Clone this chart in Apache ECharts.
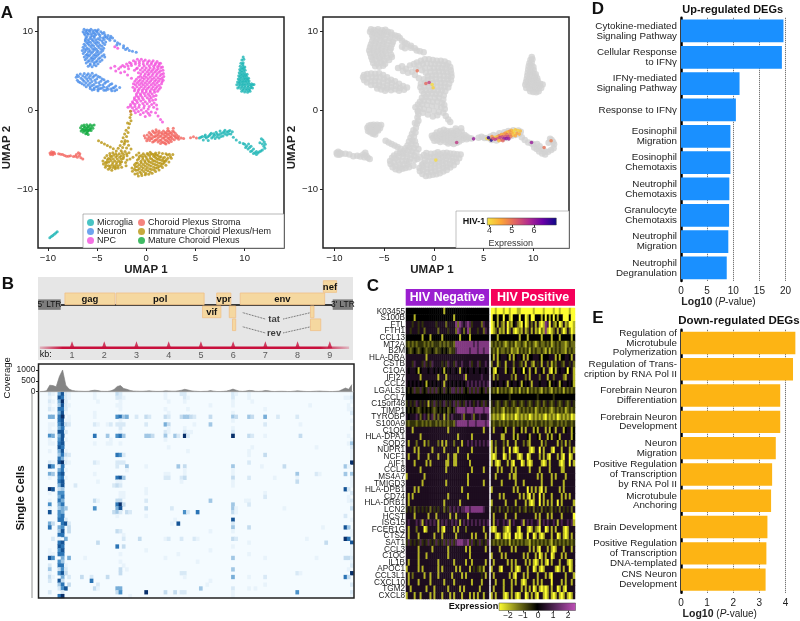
<!DOCTYPE html>
<html>
<head>
<meta charset="utf-8">
<title>HIV-1 single cell figure</title>
<script src="https://cdn.jsdelivr.net/npm/echarts@6/dist/echarts.min.js"></script>
<style>
  html, body { margin: 0; padding: 0; background: #fff; }
  #chart { width: 800px; height: 621px; }
</style>
</head>
<body>
<div id="chart"></div>
<script>
// ---- panel A: UMAP cells, [umap1, umap2]
const neuronPts = [[-6.32,10.31],[-6.0,10.22],[-5.62,10.3],[-5.2,10.18],[-4.88,10.24],[-6.42,9.98],[-6.08,9.9],[-5.72,10.02],[-5.38,9.86],[-5.0,9.95],[-4.62,9.98],[-4.3,9.88],[-6.22,9.58],[-5.88,9.66],[-5.5,9.5],[-5.12,9.62],[-4.72,9.55],[-4.2,9.62],[-3.88,9.5],[-3.6,9.42],[-6.12,9.22],[-5.7,9.14],[-5.3,9.26],[-4.92,9.1],[-4.42,9.2],[-3.9,9.12],[-3.42,9.18],[-6.2,8.82],[-5.82,8.74],[-5.42,8.86],[-5.02,8.72],[-4.5,8.8],[-4.12,8.68],[-3.2,8.84],[-2.92,8.6],[-6.32,8.4],[-5.92,8.48],[-5.5,8.34],[-5.1,8.44],[-4.7,8.3],[-4.22,8.38],[-2.7,8.42],[-2.3,8.2],[-6.42,8.02],[-6.02,7.94],[-5.62,8.06],[-5.2,7.9],[-4.8,8.0],[-4.32,7.88],[-2.32,7.96],[-1.92,7.88],[-6.5,7.6],[-6.1,7.68],[-5.7,7.54],[-5.3,7.64],[-4.9,7.5],[-4.42,7.6],[-1.72,7.62],[-1.4,7.52],[-1.02,7.38],[-6.4,7.22],[-6.0,7.14],[-5.6,7.26],[-5.2,7.1],[-4.8,7.2],[-4.3,7.08],[-6.3,6.8],[-5.9,6.88],[-5.5,6.72],[-5.1,6.84],[-4.7,6.7],[-4.22,6.78],[-6.2,6.42],[-5.8,6.34],[-5.4,6.46],[-5.0,6.3],[-4.5,6.4],[-6.1,6.02],[-5.7,5.94],[-5.3,6.06],[-4.9,5.92],[-5.9,5.62],[-5.5,5.54],[-5.1,5.66],[-7.12,4.22],[-7.02,4.5],[-6.7,4.62],[-6.3,4.7],[-5.9,4.66],[-5.5,4.72],[-5.1,4.5],[-4.7,4.2],[-4.3,3.9],[-3.9,3.72],[-3.5,3.4],[-3.1,3.1],[-2.7,2.9],[-7.0,3.84],[-6.62,4.1],[-6.22,4.22],[-5.82,4.18],[-5.42,4.2],[-5.02,4.02],[-4.62,3.7],[-4.22,3.44],[-3.82,3.1],[-3.4,2.86],[-3.0,2.62],[-6.72,3.56],[-6.32,3.7],[-5.92,3.74],[-5.52,3.68],[-5.12,3.54],[-4.72,3.24],[-4.32,2.98],[-3.9,2.7],[-3.5,2.5],[-6.3,3.24],[-5.9,3.22],[-5.5,3.16],[-5.1,3.02],[-4.7,2.78],[-4.3,2.56],[-5.7,2.8],[-5.3,2.66],[-4.9,2.5]];
const neuronFill = [[-6.15,10.12],[-5.8,10.14],[-5.42,10.1],[-5.05,10.08],[-4.45,9.78],[-6.3,9.78],[-5.95,9.78],[-5.6,9.74],[-5.25,9.76],[-4.85,9.75],[-4.05,9.3],[-6.02,9.4],[-5.65,9.36],[-5.28,9.42],[-4.7,9.3],[-4.22,9.36],[-3.65,9.2],[-6.18,9.02],[-5.92,8.96],[-5.5,9.02],[-5.15,8.96],[-4.72,8.98],[-4.28,9.0],[-3.7,8.9],[-6.05,8.62],[-5.65,8.62],[-5.25,8.64],[-4.85,8.58],[-4.4,8.56],[-3.0,8.3],[-6.18,8.2],[-5.78,8.26],[-5.35,8.18],[-4.95,8.22],[-4.5,8.14],[-6.28,7.8],[-5.85,7.78],[-5.45,7.82],[-5.05,7.74],[-4.6,7.76],[-2.1,7.75],[-6.25,7.44],[-5.88,7.42],[-5.45,7.42],[-5.05,7.36],[-4.6,7.38],[-6.12,7.0],[-5.75,7.02],[-5.35,6.98],[-4.95,7.0],[-4.5,6.92],[-6.05,6.62],[-5.62,6.6],[-5.25,6.62],[-4.85,6.56],[-5.92,6.2],[-5.52,6.24],[-5.12,6.16],[-4.7,6.2],[-5.7,5.78],[-5.3,5.8],[-6.88,4.32],[-6.45,4.42],[-6.05,4.46],[-5.68,4.44],[-5.3,4.42],[-4.88,4.3],[-4.48,4.0],[-4.1,3.62],[-3.65,3.3],[-3.25,2.9],[-6.88,3.66],[-6.45,3.9],[-6.05,4.0],[-5.65,3.96],[-5.22,3.84],[-4.82,3.52],[-4.42,3.22],[-4.02,2.92],[-3.6,2.72],[-3.2,2.5],[-6.52,3.38],[-6.12,3.48],[-5.72,3.46],[-5.32,3.3],[-4.92,3.04],[-4.52,2.82],[-4.1,2.56],[-6.1,3.02],[-5.7,3.0],[-5.3,2.86],[-4.9,2.7],[-5.5,2.6]];
const npcPts = [[-3.2,8.1],[-2.9,7.9],[-3.6,5.4],[-3.2,5.6],[-2.8,5.3],[-2.4,5.7],[-2.0,5.9],[-1.7,6.1],[-1.3,6.3],[-0.9,6.5],[-0.5,6.5],[-0.1,6.4],[0.3,6.3],[0.7,6.3],[1.1,6.2],[1.45,6.0],[-2.2,4.9],[-1.8,5.3],[-1.5,5.7],[-1.1,5.9],[-0.7,6.0],[-0.3,5.9],[0.1,5.9],[0.5,5.85],[0.9,5.8],[1.3,5.7],[1.65,5.5],[-1.2,5.1],[-0.9,5.4],[-0.4,5.4],[0.0,5.4],[0.4,5.4],[0.8,5.35],[1.2,5.3],[1.7,5.1],[-0.8,4.8],[-0.35,4.9],[0.1,4.9],[0.5,4.95],[0.9,4.9],[1.3,4.85],[1.75,4.7],[-0.6,4.35],[-0.2,4.4],[0.2,4.5],[0.6,4.45],[1.0,4.4],[1.4,4.4],[1.78,4.3],[-1.0,3.95],[-0.6,3.9],[-0.2,4.0],[0.2,4.0],[0.6,3.95],[1.0,3.9],[1.4,3.95],[1.72,3.85],[-1.3,3.4],[-0.9,3.5],[-0.5,3.45],[-0.1,3.5],[0.3,3.55],[0.7,3.45],[1.1,3.5],[1.55,3.4],[-1.35,2.95],[-0.95,3.0],[-0.5,3.0],[-0.1,3.05],[0.3,3.0],[0.7,3.0],[1.1,3.0],[1.45,2.9],[-1.2,2.5],[-0.8,2.55],[-0.4,2.55],[0.0,2.6],[0.4,2.5],[0.8,2.55],[1.15,2.45],[-1.0,2.1],[-0.6,2.1],[-0.2,2.15],[0.2,2.05],[0.6,2.1],[1.0,1.9],[-1.2,1.6],[-0.8,1.7],[-0.4,1.65],[0.1,1.6],[0.5,1.6],[0.95,1.4],[-1.4,1.1],[-1.0,1.25],[-0.55,1.2],[-0.1,1.1],[0.35,1.15],[0.8,0.95],[1.05,0.7],[-1.6,0.75],[-1.15,0.8],[-0.7,0.7],[-0.2,0.6],[0.3,0.5],[0.75,0.4],[1.1,0.2],[-1.85,0.4],[-1.4,0.3],[-1.0,0.2],[-0.5,0.05],[0.0,-0.1],[0.5,-0.2],[0.95,-0.3],[-1.6,-0.1],[-1.1,-0.3],[-0.6,-0.5],[-0.1,-0.75],[0.35,-0.6],[1.2,-0.7],[1.45,-1.15],[1.65,-1.45],[-3.1,5.0],[-2.6,4.8],[-1.9,4.5],[-1.5,4.1]];
const npcFill = [[-0.7,5.7],[-0.2,5.65],[0.3,5.65],[0.75,5.6],[1.15,5.55],[1.5,5.45],[-1.0,5.3],[-0.6,5.15],[-0.15,5.15],[0.25,5.15],[0.65,5.15],[1.05,5.1],[1.45,5.05],[-0.55,4.65],[-0.1,4.65],[0.3,4.7],[0.7,4.7],[1.1,4.65],[1.55,4.6],[-0.8,4.2],[-0.4,4.15],[0.0,4.2],[0.4,4.2],[0.8,4.15],[1.2,4.15],[1.6,4.1],[-1.15,3.7],[-0.75,3.7],[-0.35,3.72],[0.05,3.75],[0.45,3.75],[0.85,3.7],[1.25,3.7],[1.6,3.65],[-1.1,3.25],[-0.7,3.25],[-0.3,3.25],[0.1,3.3],[0.5,3.25],[0.9,3.25],[1.3,3.2],[-1.15,2.72],[-0.7,2.78],[-0.25,2.8],[0.15,2.82],[0.55,2.75],[0.95,2.78],[1.3,2.68],[-0.85,2.32],[-0.4,2.35],[0.0,2.35],[0.4,2.3],[0.85,2.32],[-1.0,1.85],[-0.55,1.9],[-0.1,1.88],[0.35,1.85],[0.75,1.8],[-1.2,1.4],[-0.75,1.45],[-0.3,1.4],[0.3,1.38],[0.65,1.3],[-1.35,0.95],[-0.9,1.0],[-0.35,0.9],[0.1,0.85],[0.55,0.75],[-1.6,0.55],[-1.15,0.5],[-0.75,0.42],[-0.25,0.3],[0.2,0.2],[-1.25,0.0],[-0.8,-0.12],[-0.3,-0.3],[0.2,-0.35],[-2.6,5.5],[-2.2,5.55],[-1.85,5.65],[-1.55,5.95],[-1.1,6.15],[-0.7,6.25],[-0.3,6.2],[0.15,6.15],[0.55,6.08],[0.95,6.0],[1.3,5.95]];
const stromaPts = [[-9.78,-5.4],[-9.62,-5.25],[-9.45,-5.4],[-9.72,-5.6],[-9.5,-5.62],[-9.3,-5.5],[-8.9,-5.5],[-8.5,-5.6],[-8.1,-5.8],[-7.7,-5.75],[-7.4,-5.85],[-7.1,-5.6],[-6.9,-5.35],[-6.8,-5.75],[-6.65,-6.0],[-6.45,-6.15],[-7.0,-5.95],[-0.1,-3.5],[-0.2,-3.2],[0.05,-3.85],[0.1,-3.1],[0.3,-3.35],[0.35,-3.8],[0.3,-2.8],[0.55,-3.15],[0.6,-3.55],[0.65,-2.6],[0.65,-4.0],[0.9,-2.9],[0.9,-3.3],[0.92,-3.75],[1.0,-2.45],[1.2,-4.0],[1.2,-3.5],[1.2,-3.05],[1.3,-2.6],[1.45,-4.2],[1.5,-3.75],[1.5,-3.25],[1.55,-2.8],[1.75,-4.05],[1.8,-3.5],[1.8,-3.05],[1.75,-2.6],[2.0,-4.25],[2.05,-3.8],[2.05,-3.25],[2.0,-2.85],[2.2,-2.3],[2.3,-4.1],[2.3,-3.55],[2.3,-3.05],[2.3,-2.6],[2.55,-3.95],[2.55,-3.4],[2.55,-2.9],[2.75,-2.25],[2.85,-3.7],[2.85,-3.2],[2.8,-2.7],[3.05,-3.5],[3.1,-3.1],[3.3,-3.65],[3.3,-3.3],[3.55,-3.5],[3.8,-3.55],[4.5,-3.45],[4.8,-3.35],[5.1,-3.5]];
const stromaFill = [[0.15,-3.6],[0.45,-3.0],[0.45,-3.55],[0.75,-2.75],[0.75,-3.35],[0.8,-3.9],[1.05,-2.7],[1.05,-3.2],[1.05,-3.7],[1.3,-2.85],[1.35,-3.3],[1.35,-3.8],[1.6,-3.0],[1.65,-3.5],[1.6,-4.0],[1.9,-2.8],[1.9,-3.3],[1.9,-3.75],[1.9,-4.15],[2.15,-3.0],[2.18,-3.5],[2.2,-3.95],[2.15,-2.6],[2.42,-2.8],[2.42,-3.3],[2.42,-3.75],[2.65,-3.1],[2.65,-3.6],[2.68,-2.6],[2.95,-3.35],[2.95,-2.9],[3.2,-3.45],[-9.6,-5.45],[-9.4,-5.3],[-8.7,-5.55],[-8.3,-5.7],[-7.9,-5.8],[-7.2,-5.8],[-6.75,-5.5]];
const microgliaPts = [[9.85,6.8],[9.72,6.4],[9.92,6.5],[9.62,6.0],[9.85,6.05],[9.55,5.6],[9.82,5.65],[10.02,5.5],[9.5,5.2],[9.78,5.25],[10.05,5.1],[9.45,4.8],[9.72,4.85],[10.0,4.75],[10.25,4.6],[9.4,4.4],[9.68,4.45],[9.95,4.4],[10.2,4.3],[10.4,4.1],[9.35,4.0],[9.62,4.05],[9.9,4.0],[10.15,3.95],[10.45,3.75],[9.28,3.6],[9.55,3.65],[9.82,3.6],[10.1,3.6],[10.4,3.5],[10.7,3.4],[9.2,3.25],[9.5,3.25],[9.78,3.2],[10.05,3.2],[10.35,3.15],[10.65,3.1],[10.95,3.3],[9.3,2.85],[9.6,2.8],[9.9,2.8],[10.2,2.75],[10.5,2.75],[10.8,2.85],[9.7,2.45],[10.0,2.35],[10.3,2.3],[10.55,2.45],[5.4,-3.5],[5.7,-3.3],[5.8,-3.75],[6.0,-3.1],[6.1,-3.5],[6.3,-3.8],[6.4,-3.2],[6.6,-2.9],[6.65,-3.5],[6.95,-3.15],[7.0,-3.55],[7.1,-2.75],[7.35,-3.1],[7.4,-3.5],[7.5,-2.6],[7.75,-2.85],[7.8,-3.25],[8.0,-2.5],[8.2,-2.75],[8.2,-3.1],[8.5,-2.55],[8.6,-3.0],[8.75,-2.7],[8.85,-3.4],[9.15,-3.75],[9.5,-4.05],[9.85,-4.2],[10.1,-4.7],[10.0,-4.3],[10.4,-4.25],[10.35,-4.9],[10.65,-4.55],[10.6,-5.2],[10.9,-4.9],[10.9,-5.45],[11.2,-5.2],[11.2,-5.6],[11.5,-5.25],[11.8,-5.0],[12.05,-4.8],[12.1,-4.3],[12.0,-4.0],[11.7,-3.6],[11.55,-4.1],[11.85,-3.75]];
const microgliaFill = [[9.8,5.85],[9.68,5.4],[9.92,5.35],[9.6,5.0],[9.88,5.0],[9.6,4.6],[9.85,4.6],[10.1,4.5],[9.52,4.2],[9.8,4.2],[10.05,4.15],[10.3,4.0],[9.48,3.85],[9.75,3.8],[10.0,3.78],[10.28,3.75],[9.42,3.45],[9.7,3.42],[9.95,3.4],[10.22,3.38],[10.52,3.3],[10.82,3.25],[9.45,3.05],[9.75,3.0],[10.05,2.98],[10.35,2.95],[10.65,2.92],[9.85,2.6],[10.15,2.55],[10.42,2.55],[5.55,-3.4],[5.95,-3.3],[6.25,-3.35],[6.5,-3.05],[6.8,-3.3],[6.85,-2.95],[7.2,-3.0],[7.2,-3.35],[7.55,-2.95],[7.6,-3.3],[7.9,-2.7],[8.0,-3.0],[8.35,-2.65],[8.4,-2.95],[10.2,-4.5],[10.5,-4.7],[10.75,-5.1],[11.05,-5.35],[11.35,-5.4],[11.65,-5.15],[11.95,-4.55],[11.8,-4.25]];
const microgliaTail = [[-9.8,-16.15],[-9.65,-16.0],[-9.5,-15.85],[-9.35,-15.7],[-9.2,-15.55],[-9.05,-15.4]];
const immaturePts = [[-1.6,-0.1],[-1.55,-0.5],[-1.65,-0.9],[-1.55,-1.3],[-1.7,-1.7],[-1.9,-1.6],[-1.8,-2.2],[-2.05,-2.5],[-1.85,-2.8],[-2.2,-3.0],[-2.0,-3.3],[-2.35,-3.45],[-2.15,-3.8],[-1.9,-3.9],[-2.5,-3.95],[-2.25,-4.3],[-1.8,-4.4],[-2.65,-4.45],[-2.4,-4.7],[-2.0,-4.75],[-1.55,-4.9],[-2.85,-4.8],[-2.55,-5.1],[-2.15,-5.2],[-1.75,-5.35],[-3.05,-5.15],[-2.75,-5.5],[-2.3,-5.6],[-1.95,-5.75],[-4.85,-3.85],[-4.55,-4.05],[-4.25,-4.25],[-3.95,-4.45],[-3.65,-4.65],[-3.35,-4.85],[-3.1,-5.5],[-3.4,-5.35],[-3.7,-5.45],[-4.0,-5.7],[-4.2,-6.0],[-4.4,-6.4],[-4.35,-6.8],[-4.15,-7.2],[-3.85,-7.45],[-3.5,-7.6],[-3.15,-7.4],[-2.85,-7.3],[-3.85,-6.1],[-3.5,-5.85],[-3.1,-5.9],[-2.7,-5.95],[-2.35,-6.1],[-4.0,-6.6],[-3.6,-6.35],[-3.2,-6.4],[-2.8,-6.4],[-2.5,-6.5],[-3.85,-7.0],[-3.45,-6.85],[-3.05,-6.85],[-2.65,-6.85],[-3.4,-7.25],[-2.5,-7.2],[-2.05,-7.0],[-1.95,-6.3],[-1.65,-6.15],[-1.35,-5.95],[-1.2,-6.9],[-1.45,-7.3],[-1.4,-7.7],[-1.15,-8.05],[-0.8,-8.3],[-0.45,-8.25],[-0.1,-8.15],[0.25,-8.1],[0.6,-7.95],[0.95,-7.75],[1.3,-7.55],[1.65,-7.25],[2.0,-6.95],[2.3,-6.55],[2.55,-6.05],[2.7,-5.6],[-1.05,-7.6],[-0.65,-7.8],[-0.25,-7.75],[0.15,-7.65],[0.55,-7.5],[0.95,-7.3],[1.3,-7.1],[1.65,-6.8],[1.95,-6.45],[2.2,-6.05],[2.35,-5.55],[-1.1,-7.15],[-0.7,-7.35],[-0.3,-7.3],[0.1,-7.25],[0.5,-7.05],[0.9,-6.85],[1.25,-6.65],[1.6,-6.35],[1.85,-5.95],[2.0,-5.5],[-1.05,-6.7],[-0.7,-6.9],[-0.3,-6.85],[0.1,-6.8],[0.5,-6.6],[0.85,-6.4],[1.2,-6.2],[1.5,-5.85],[1.65,-5.45],[-0.9,-6.3],[-0.55,-6.45],[-0.15,-6.4],[0.2,-6.35],[0.55,-6.15],[0.9,-5.95],[1.2,-5.7],[1.3,-5.35],[-0.7,-5.85],[-0.35,-5.95],[0.0,-5.9],[0.35,-5.75],[0.65,-5.55],[0.95,-5.4],[-0.3,-5.5],[0.1,-5.45],[0.4,-5.3],[-0.75,-5.4],[-1.0,-5.65]];
const immatureFill = [[-3.65,-5.75],[-3.3,-5.65],[-2.95,-5.7],[-2.55,-5.75],[-3.95,-6.3],[-3.65,-6.1],[-3.35,-6.15],[-2.95,-6.15],[-2.55,-6.2],[-4.15,-6.6],[-3.8,-6.55],[-3.4,-6.6],[-3.0,-6.6],[-2.65,-6.6],[-4.1,-6.95],[-3.65,-7.05],[-3.25,-7.05],[-2.85,-7.05],[-3.7,-7.3],[-3.1,-7.2],[-2.3,-5.9],[-2.1,-6.6],[-2.2,-4.05],[-2.45,-5.35],[-2.0,-5.5],[-1.2,-7.45],[-0.85,-7.55],[-0.45,-7.55],[-0.05,-7.5],[0.35,-7.4],[0.75,-7.2],[1.1,-6.95],[1.45,-6.7],[1.8,-6.4],[2.05,-6.25],[-0.9,-8.0],[-0.5,-8.0],[-0.05,-7.95],[0.4,-7.8],[0.8,-7.55],[1.15,-7.3],[1.5,-7.0],[1.8,-6.65],[-0.9,-7.1],[-0.5,-7.1],[-0.1,-7.05],[0.3,-6.95],[0.7,-6.75],[1.05,-6.5],[1.4,-6.25],[1.7,-6.1],[-0.9,-6.65],[-0.5,-6.65],[-0.1,-6.6],[0.3,-6.55],[0.7,-6.35],[1.05,-6.1],[1.35,-5.95],[-0.75,-6.1],[-0.35,-6.2],[0.05,-6.15],[0.4,-6.05],[0.75,-5.8],[1.05,-5.65],[-0.5,-5.7],[-0.15,-5.7],[0.2,-5.6],[0.5,-5.5],[0.85,-5.6],[2.15,-5.65],[2.45,-5.85]];
const maturePts = [[-6.68,-2.2],[-6.62,-2.6],[-6.55,-1.95],[-6.4,-2.35],[-6.4,-2.75],[-6.32,-1.85],[-6.2,-2.15],[-6.2,-2.55],[-6.15,-2.95],[-6.05,-1.8],[-6.0,-2.3],[-5.98,-2.7],[-5.9,-3.05],[-5.85,-2.0],[-5.8,-2.5],[-5.7,-1.8],[-5.65,-2.2],[-5.6,-2.55],[-5.5,-1.95],[-5.42,-2.25],[-5.3,-1.85],[-6.5,-2.4],[-6.3,-2.05],[-6.1,-2.45],[-5.95,-2.1],[-5.9,-2.55],[-5.72,-2.35],[-6.3,-2.55],[-6.05,-2.85]];

// ---- HIV-1 positive cells, [umap1, umap2, expression]
const hivPts = [[-1.67,5.03,5.0],[-0.8,3.42,5.1],[-0.47,3.55,5.5],[-0.17,3.3,4.0],[-0.07,2.88,4.1],[0.2,-6.3,4.0],[2.3,-4.06,5.6],[4.0,-3.6,6.0],[9.83,-4.06,6.0],[11.1,-4.7,5.0],[11.8,-3.85,4.9],[8.7,-2.6,4.3],[8.45,-2.55,4.1],[8.2,-2.45,4.2],[8.0,-2.6,4.0],[7.8,-2.5,4.4],[8.35,-2.9,4.6],[8.1,-2.85,4.1],[7.85,-2.85,4.5],[7.6,-2.65,4.7],[7.4,-2.75,4.3],[7.2,-2.85,4.6],[8.6,-3.0,4.4],[7.95,-3.15,4.2],[7.65,-3.05,4.8],[7.35,-3.05,5.0],[7.05,-3.0,4.7],[6.8,-3.05,4.5],[6.55,-3.2,4.9],[6.35,-3.35,4.4],[6.1,-3.45,4.1],[5.35,-3.55,4.0],[5.6,-3.65,4.1],[5.85,-3.3,4.7],[7.2,-3.3,5.3],[7.5,-3.35,5.6],[7.75,-3.3,4.9],[6.9,-3.35,5.4],[6.65,-3.45,5.6],[6.4,-3.6,5.3],[6.15,-3.65,5.7],[7.05,-3.6,6.0],[7.3,-3.55,6.1],[6.75,-3.75,5.2],[8.2,-3.2,4.5],[5.5,-3.47,6.8],[5.77,-3.76,6.9],[6.55,-3.85,4.3],[6.95,-3.85,5.1],[7.55,-3.6,5.9],[5.95,-3.55,5.4]];

// ---- panel B: HIV-1 genome map
const geneNames = ['gag', 'pol', 'vif', 'vpr', 'env', 'nef', '', '', '', ''];
const geneStart = [0.78, 2.37, 5.05, 5.49, 6.22, 8.8, 5.88, 5.98, 8.4, 8.4];
const geneEnd = [2.33, 5.1, 5.62, 5.93, 8.84, 9.21, 6.08, 6.08, 8.51, 8.72];
const geneTrack = [4.5, 4.5, 3.44, 4.5, 4.5, 5.5, 3.44, 2.39, 3.44, 2.39];
const ltrNames = ["5' LTR", "3' LTR"];
const ltrStart = [-0.05, 9.09];
const ltrEnd = [0.65, 9.72];
const kbTicks = [1, 2, 3, 4, 5, 6, 7, 8, 9];
const tatRevNames = ['tat', 'rev'];
const tatRevKb = [7.27, 7.27];
const tatRevLevel = [3.33, 2.2];
const dashKb = [6.3, 7.0, null, 7.55, 8.4, null, 6.3, 7.0, null, 7.55, 8.4];
const dashLevel = [3.85, 3.33, null, 3.33, 3.85, null, 2.7, 2.2, null, 2.2, 2.7];

// coverage per 0.1 kb bin
const coverage = [10,15,40,300,280,230,700,1000,300,120,60,35,25,20,15,20,50,70,50,20,15,15,40,100,240,280,150,110,60,30,25,20,20,30,40,25,15,15,20,40,35,25,25,40,70,110,80,40,25,15,10,15,20,50,25,10,10,15,30,70,120,70,25,15,30,60,50,20,15,25,55,45,15,10,15,20,15,10,10,25,40,30,15,10,10,15,25,30,20,15,10,10,15,30,100,170,110,330];

// single cell coverage, one list per cell: bin, level, bin, level ...
const cellRows = [
  [3,2,4,1,6,5,7,8,8,2,9,1,17,1,24,3,25,2,39,1,44,2,45,2,60,2,61,1,65,1,97,1],
  [3,1,6,8,7,7,8,2,9,1,17,1,24,2,25,2,26,1,39,1,45,2,46,1,60,2,65,1,95,1,96,1,97,2],
  [3,2,4,1,6,5,7,9,8,2,18,1,25,1,40,1,45,1,60,1,66,1,97,1],
  [3,1,6,4,7,8,8,2,9,1,24,1,25,1,53,1,60,1,84,1,96,1],
  [3,2,4,1,6,7,7,7,8,2,25,1,39,1,46,1,70,1,96,1,97,1],
  [6,5,7,8,8,1,17,1,40,1,60,1,97,2],
  [3,5,4,5,6,7,7,9,9,1,17,1,24,6,25,7,26,4,27,5,30,2,33,3,34,2,39,3,40,2,44,3,45,4,46,4,47,3,48,2,53,3,60,4,61,3,65,4,66,3,70,5,74,2,80,2],
  [6,7,7,8,8,1,9,1,25,1,60,1,97,1],
  [3,1,4,1,6,6,7,8,8,3,9,2,17,2,18,1,21,1,22,2,24,2,25,2,26,2,33,2,39,5,40,3,48,1,53,4,70,2,81,1],
  [3,1,6,5,7,7,25,2,40,1,45,1,60,1,97,1],
  [3,1,4,1,6,8,7,8,8,2,25,1,39,2,40,1,45,2,46,1,47,1,60,2],
  [3,6,4,5,6,5,7,8,17,7,21,4,24,6,25,7,26,4,33,4,34,4,35,3,39,4,42,4,43,2,45,9,46,2,60,9,65,3,66,2,70,1,81,3,96,1],
  [3,1,6,6,7,8,8,1,22,1,39,1,97,1],
  [3,1,4,1,6,7,7,8,17,1,21,1,22,1,25,1,96,1,97,4],
  [6,8,7,7,40,1,66,1,86,1,97,2],
  [3,1,6,5,7,8,8,1,46,1,65,1,97,1],
  [6,4,7,7,8,3,9,2,24,7,25,6,26,2,65,1,70,3,97,1],
  [6,7,7,5,8,1,97,1],
  [3,2,4,1,6,8,7,9,8,2,9,1,17,2,18,1,24,2,25,2,26,2,65,2,97,9],
  [3,8,4,6,6,2,7,7,24,2,27,4,33,1,43,4,45,3,60,4,69,1,76,3,95,4,96,1],
  [6,5,7,7,8,1,27,1,45,1,60,1],
  [3,5,4,4,6,7,7,8,17,1,39,1,40,1,45,1,60,1,80,4,86,2,87,1,95,4,97,4],
  [3,1,6,6,7,7,8,1,24,7,25,8,26,4,39,2,40,2,44,2,45,3,60,3,65,2,73,1,80,1,97,1],
  [6,7,7,8,18,1,24,1,25,1,44,1,60,1,80,3,97,1],
  [6,5,7,8,11,2,23,2,24,3,25,2,60,1,97,1],
  [3,9,4,8,6,3,7,4,33,1,95,8,96,2],
  [3,1,6,6,7,6,25,1,26,1,33,1,70,1,97,2],
  [6,5,7,7,25,1,26,1,70,2,96,1],
  [3,1,6,7,7,5,17,3,18,1,24,3,25,3,33,2,53,4,64,1,65,1,96,1,97,2],
  [3,6,6,5,7,7,24,7,25,9,26,3,60,4,65,2,97,1],
  [3,1,6,4,7,5,8,4,17,6,24,5,25,8,33,3,41,2,60,4,61,1,76,1,97,3],
  [3,8,6,6,7,5,23,3,24,4,25,2,27,3,28,2,45,6,46,2,49,7,60,3,61,1],
  [6,6,7,7,24,1,33,1,95,2],
  [6,7,7,7,8,2,42,1,60,8,97,1],
  [3,5,4,3,7,7,8,8,9,2,41,1,43,8,60,2],
  [3,7,6,5,7,6,9,3,60,4,65,3,88,1,95,8,96,4],
  [6,4,7,8,9,3,24,3,25,2,53,1,60,1,97,1],
  [6,7,7,7,26,1,97,1],
  [4,2,6,1,8,5,26,2,31,3,39,1,40,2,44,2,48,2,49,1,60,3,61,2,83,1,95,9,96,7],
  [6,7,7,8,18,3,65,1,89,3,97,8],
  [6,8,7,7,24,7,26,3,60,1,97,1],
  [3,1,6,6,7,8,33,1,53,1,97,1],
  [3,1,4,1,6,7,7,7,25,1,43,1,65,1,97,1],
  [3,8,4,6,7,5,9,5,14,1,39,1,60,4,70,1,86,1,95,3,96,3,97,2],
  [6,6,7,4,25,1,49,1,97,1],
  [3,2,6,7,7,7,8,1,26,1,97,2],
  [3,4,6,3,7,6,8,2,25,3,27,1,60,4,96,1],
  [3,1,6,6,7,8,8,3,25,3,44,2,45,2,80,2,81,1,97,9],
  [3,3,4,1,7,5,9,2,13,3,16,2,21,3,45,1,60,5,65,1,70,2,95,7,96,3],
  [3,2,6,8,7,3,16,7,53,1],
  [6,4,7,7,9,3,18,2,52,1,70,1,97,2],
  [6,2,7,6,8,8,17,3,18,1,24,5,25,5,50,4,60,2,65,1,67,1],
  [3,2,7,2,24,3,25,6,33,9,39,3,42,3,44,2,45,2,60,1,80,6,97,2],
  [6,7,7,9,28,1,60,1,97,1]
];

// ---- panel C: one line per gene, 42 HIV negative then 42 HIV positive cells
// digit is an index into exprLevels
const exprLevels = [-2.5, -1.8, -1.1, -0.5, 0, 0.4, 1.0, 1.7, 2.4];
const genes = ['K03455','S100B','FTL','FTH1','CCL13','MT2A','B2M','HLA-DRA','CSTB','C1QA','IFI27','CCL2','LGALS1','CCL7','C15orf48','TIMP1','TYROBP','S100A9','C1QB','HLA-DPA1','SOD2','NUPR1','NCF1','AIF1','CCL8','MS4A7','TMIGD3','HLA-DPB1','CD74','HLA-DRB1','LCN2','HCST','ISG15','FCER1G','CTSZ','SAT1','CCL3','C1QC','IL1B','APOC1','CCL3L1','CXCL10','TGM2','CXCL8'];
const geneRows = [
  '444444 444444 444444 414444 444444 444444 444444 001000 100100 011000 000100 001000 010010 000100',
  '444414 444444 444444 444444 144444 444444 444444 044144 044104 440440 140044 414041 404144 000400',
  '555355 353555 555355 552555 572765 676355 552655 014152 150214 521040 152515 101760 521401 512001',
  '553555 355255 555525 555355 527652 572555 355265 012512 150251 012151 251512 021710 125152 015201',
  '444444 441444 144444 144444 444144 441444 444444 444144 444444 441444 144444 414444 144414 444414',
  '323232 333232 323332 323233 277777 777767 677777 232323 212323 122321 323212 322323 123232 212322',
  '432343 234323 343233 434323 367777 776777 677677 323132 232312 213232 313232 232131 323232 213232',
  '555555 555515 555555 555555 555555 555555 555555 415145 554151 455415 144555 414445 551414 455415',
  '555365 553635 365555 353655 365565 556355 635565 255135 515552 553251 552153 515525 132553 255352',
  '545554 145554 554545 414545 545154 545545 545545 410455 514551 455404 515415 541551 041545 540451',
  '555555 515555 555515 551555 555556 155555 556555 515255 555525 155552 515555 255515 525555 215551',
  '545454 545414 545454 515454 545454 565656 565656 545455 451545 545145 451555 455541 454514 554541',
  '434363 363436 363634 363436 636363 436363 634363 323132 323213 231323 132323 213232 132323 132323',
  '444444 444444 444444 444444 444444 444444 444444 444444 444344 444444 444443 444444 434444 444444',
  '353536 535351 536353 563535 636353 656535 653635 353235 323532 353235 323532 352353 235323 532353',
  '434343 234343 432343 434234 367777 677767 777677 323232 132323 212323 232312 323232 123232 312323',
  '545556 525652 562525 515256 555562 555625 565556 212121 021212 012121 201212 121021 212012 121201',
  '323332 332323 233232 323233 267777 767776 777767 323323 232332 323233 232323 323232 233232 323323',
  '555155 555555 555555 555155 555555 555555 555155 515555 415551 554151 555141 555151 451555 145514',
  '555555 515555 555555 555555 551555 555155 555555 555551 155551 415555 415554 155514 155415 555514',
  '515552 555152 555525 151555 255515 565656 565656 152555 251555 155525 215555 515255 555152 515255',
  '555515 155555 515555 515555 551555 555155 555555 151555 155051 015555 510155 051555 105551 555151',
  '515555 155551 555515 555155 115555 515555 555555 101555 015155 510155 015555 151510 555151 055015',
  '555515 555515 155555 551155 115555 551555 555555 151015 551510 555015 101555 510151 555510 155051',
  '555555 515555 555555 551555 555555 555155 555155 555151 555515 155555 515555 155551 555551 155555',
  '155555 555155 555555 555555 555555 515555 555555 551555 555151 155555 555551 515555 151555 515555',
  '555555 551555 555555 551555 555555 515555 555155 555551 555555 155515 555555 515555 155555 155555',
  '555515 155555 555555 555555 555515 555555 555555 155555 555551 515555 051515 105155 555515 155555',
  '515155 555555 555555 555155 555555 515555 555555 555515 155555 551515 105155 051555 155551 515155',
  '515555 555555 555555 515555 555155 555555 555555 155555 515555 155551 510155 051515 155051 555551',
  '353525 353535 253535 525365 656566 776777 777655 353525 352535 352532 535253 525353 253525 353525',
  '555515 555551 555155 555515 515555 515555 555555 515555 515555 155555 555515 155515 155551 555550',
  '565556 561565 656515 656556 565156 565656 565656 515655 656156 555615 656556 156565 565156 556561',
  '515552 555015 555515 105555 151555 255555 555155 101555 210155 510555 101521 055015 151555 101555',
  '515555 155555 551555 155555 515555 555151 555515 551015 101055 010155 055015 101555 155015 101515',
  '363535 363536 353635 363636 367776 673635 363536 323232 323132 323232 213232 323232 132323 232323',
  '555555 155555 515555 555155 555555 151555 555515 555515 555515 155555 515151 055515 101555 155515',
  '555555 155515 555555 555155 555555 551555 555555 155551 515555 555515 155515 015155 015551 515555',
  '515555 155555 555515 555555 155555 155155 555515 515555 551515 155551 515101 515105 155515 551015',
  '155555 151555 555515 155555 515155 551535 323155 155510 555515 101555 155015 101555 551015 155015',
  '515255 555155 155515 555551 555515 155555 553515 515555 555151 055515 155551 555151 055555 515551',
  '515555 155555 155555 515555 155555 555155 551555 551555 155515 155101 555151 515555 055551 515515',
  '551555 555515 551555 555155 555151 555555 515555 515555 155515 555151 515015 101015 155015 105555',
  '155515 515555 151555 155515 155515 551515 155155 151555 101515 101550 151510 551015 101510 151015'
];

// ---- panels D and E: enrichment bars
const upTerms = ['Cytokine-mediated\nSignaling Pathway','Cellular Response\nto IFNγ','IFNγ-mediated\nSignaling Pathway','Response to IFNγ','Eosinophil\nMigration','Eosinophil\nChemotaxis','Neutrophil\nChemotaxis','Granulocyte\nChemotaxis','Neutrophil\nMigration','Neutrophil\nDegranulation'];
const upValues = [19.6, 19.3, 11.2, 10.5, 9.45, 9.45, 9.25, 9.2, 9.05, 8.75];
const downTerms = ['Regulation of\nMicrotubule\nPolymerization','Regulation of Trans-\ncription by RNA Pol II','Forebrain Neuron\nDifferentiation','Forebrain Neuron\nDevelopment','Neuron\nMigration','Positive Regulation\nof Transcription\nby RNA Pol II','Microtubule\nAnchoring','Brain Development','Positive Regulation\nof Transcription\nDNA-templated','CNS Neuron\nDevelopment'];
const downValues = [4.38, 4.29, 3.8, 3.8, 3.63, 3.49, 3.45, 3.31, 3.27, 3.24];

const umapColors = { microglia: '#1cb5b5', neuron: '#4a8dea', npc: '#f24fdc', stroma: '#f2655f', immature: '#b8930f', mature: '#10aa3e' };
const plasma = ['#f5e642', '#fca636', '#e16462', '#b12a90', '#6a00a8', '#0d0887'];
const purpleYellow = ['#ffff30', '#7a7a18', '#000000', '#5c2a60', '#c050b8'];
const blues = ['#f4fbff', '#e2eff9', '#c4dcef', '#8fbde0', '#4a90c8', '#1c66ac', '#08306b'];
const ink = '#222';
const sans = '"Liberation Sans", Arial, sans-serif';
const dotSize = 3;

const chartInstance = echarts.init(document.getElementById('chart'));

const minusSign = v => String(v).replace('-', '\u2212');

function umapAxes (gridIndex, xMin, xMax, namePad) {
  return {
    x: {
      gridIndex, type: 'value', min: xMin, max: xMax,
      name: 'UMAP 1', nameLocation: 'middle', nameGap: 16,
      nameTextStyle: { fontSize: 11.5, fontWeight: 'bold', color: ink, padding: [0, namePad, 0, 0] },
      splitLine: { show: false }, axisLine: { show: false, onZero: false },
      axisTick: { show: true, length: 3, customValues: [-10, -5, 0, 5, 10], lineStyle: { color: ink } },
      axisLabel: { customValues: [-10, -5, 0, 5, 10], fontSize: 9.5, color: ink, margin: 5, formatter: minusSign }
    },
    y: {
      gridIndex, type: 'value', min: -17.45, max: 11.86,
      name: 'UMAP 2', nameLocation: 'middle', nameGap: 5,
      nameTextStyle: { fontSize: 11.5, fontWeight: 'bold', color: ink, padding: [0, 30, 0, 0] },
      splitLine: { show: false }, axisLine: { show: false, onZero: false },
      axisTick: { show: true, length: 3, customValues: [-10, 0, 10], lineStyle: { color: ink } },
      axisLabel: { customValues: [-10, 0, 10], fontSize: 9.5, color: ink, margin: 5, formatter: minusSign }
    }
  };
}

// bars of the enrichment panels
function barAxes (gridIndex, terms, xMax, xTicks) {
  return {
    x: {
      gridIndex, type: 'value', min: 0, max: xMax,
      name: '{b|Log10} ({i|P}-value)', nameLocation: 'middle', nameGap: 16,
      nameTextStyle: { fontSize: 10, color: ink, padding: [0, 40, 0, 0], rich: { b: { fontWeight: 'bold', fontSize: 10.5 }, i: { fontStyle: 'italic', fontSize: 10 } } },
      axisLine: { show: false, onZero: false }, axisTick: { show: false },
      axisLabel: { customValues: xTicks, fontSize: 10, color: ink, margin: 5 },
      splitLine: { show: true, showMinLine: false, showMaxLine: false, lineStyle: { type: 'dotted', color: '#555', width: 1 } }
    },
    y: {
      gridIndex, type: 'category', data: terms, inverse: true,
      axisLine: { lineStyle: { color: '#000', width: 2.5 } }, axisTick: { show: false },
      axisLabel: { interval: 0, fontSize: 9.8, lineHeight: 9.8, color: ink, margin: 4, align: 'right' }
    }
  };
}

// rectangles on the genome map, span and track come from the data
function renderSpan (params, api) {
  const p0 = api.coord([api.value(0), api.value(2) + 0.95]);
  const p1 = api.coord([api.value(1), api.value(2)]);
  const children = [{
    type: 'rect',
    shape: { x: p0[0], y: p0[1], width: p1[0] - p0[0], height: p1[1] - p0[1] },
    style: { fill: '#f5d8a0', stroke: '#f0c088', lineWidth: 0.8 }
  }];
  const label = geneNames[params.dataIndex];
  if (label) {
    children.push({
      type: 'text', x: (p0[0] + p1[0]) / 2, y: (p0[1] + p1[1]) / 2 + 1,
      style: { text: label, fill: '#111', font: '600 9.5px ' + sans, align: 'center', verticalAlign: 'middle', textAlign: 'center', textVerticalAlign: 'middle' }
    });
  }
  return { type: 'group', children };
}

function renderLtr (params, api) {
  const p0 = api.coord([api.value(0), 4.93]);
  const p1 = api.coord([api.value(1), 4.08]);
  return {
    type: 'group',
    children: [
      { type: 'rect', shape: { x: p0[0], y: p0[1], width: p1[0] - p0[0], height: p1[1] - p0[1] }, style: { fill: '#7d7d7d' } },
      { type: 'text', x: (p0[0] + p1[0]) / 2, y: (p0[1] + p1[1]) / 2, style: { text: ltrNames[params.dataIndex], fill: '#111', font: '8.4px ' + sans, align: 'center', verticalAlign: 'middle', textAlign: 'center', textVerticalAlign: 'middle' } }
    ]
  };
}

// colour bar spanning a value range of its own axis
function renderColorBar (colors) {
  return function (params, api) {
    const p0 = api.coord([api.value(0), 1]);
    const p1 = api.coord([api.value(1), 0]);
    return {
      type: 'rect',
      shape: { x: p0[0], y: p0[1], width: p1[0] - p0[0], height: p1[1] - p0[1] },
      style: {
        stroke: '#444', lineWidth: 0.5,
        fill: new echarts.graphic.LinearGradient(0, 0, 1, 0, colors.map((c, i) => ({ offset: i / (colors.length - 1), color: c })))
      }
    };
  };
}

const greyPts = [].concat(microgliaPts, neuronPts, npcPts, stromaPts, immaturePts, maturePts);

const kbBins = coverage.map((v, i) => i);
const rowIndex = cellRows.map((v, i) => i);
const cellData = [];
cellRows.forEach((row, r) => {
  for (let k = 0; k < row.length; k += 2) cellData.push([row[k], r, row[k + 1]]);
});

const negData = [];
const posData = [];
const cellsPerGroup = 42;
geneRows.forEach((line, g) => {
  const digits = line.replace(/ /g, '');
  for (let c = 0; c < digits.length; c++) {
    const val = exprLevels[Number(digits[c])];
    if (c < cellsPerGroup) negData.push([c, g, val]);
    else posData.push([c - cellsPerGroup, g, val]);
  }
});
const cellCols = Array.from({ length: cellsPerGroup }, (v, i) => i);

const umapLeft = umapAxes(0, -11, 14, 30);
const umapRight = umapAxes(1, -11.15, 13.6, 28);
const barsUp = barAxes(9, upTerms, 22, [0, 5, 10, 15, 20]);
const barsDown = barAxes(10, downTerms, 4.5, [0, 1, 2, 3, 4]);

function labelText (text, x, y, font, extra, fill) {
  return Object.assign({
    type: 'text', x, y, z: 60,
    style: { text, font: font + ' ' + sans, fill: fill || '#111', align: 'center', verticalAlign: 'middle', textAlign: 'center', textVerticalAlign: 'middle' }
  }, extra || {});
}

const initOption = {
  animation: false,
  backgroundColor: '#fff',
  textStyle: { fontFamily: sans },
  grid: [
    { left: 36, top: 17, width: 248, height: 231, show: true, borderColor: '#222', borderWidth: 1.5, backgroundColor: '#fff' },
    { left: 323, top: 17, width: 246, height: 231, show: true, borderColor: '#222', borderWidth: 1.5, backgroundColor: '#fff' },
    { left: 38, top: 277, width: 315, height: 83, show: true, backgroundColor: '#e6e6e6', borderWidth: 0 },
    { left: 38.5, top: 364, width: 315, height: 27.7 },
    { left: 38.5, top: 392, width: 315, height: 206, show: true, backgroundColor: blues[0], borderWidth: 0 },
    { left: 406, top: 308, width: 83, height: 291 },
    { left: 491, top: 308, width: 84, height: 291 },
    { left: 499, top: 603, width: 76.5, height: 7.5 },
    { left: 487.3, top: 218, width: 69, height: 7 },
    { left: 681, top: 17.8, width: 115, height: 263.3 },
    { left: 681, top: 329.8, width: 117.5, height: 263 }
  ],
  xAxis: [
    umapLeft.x,
    umapRight.x,
    { gridIndex: 2, type: 'value', min: -0.056, max: 9.72, show: false },
    { gridIndex: 3, type: 'category', data: kbBins, show: false },
    { gridIndex: 4, type: 'category', data: kbBins, show: false },
    { gridIndex: 5, type: 'category', data: cellCols, show: false },
    { gridIndex: 6, type: 'category', data: cellCols, show: false },
    {
      gridIndex: 7, type: 'value', min: -2.6, max: 2.5,
      axisLine: { show: false, onZero: false }, splitLine: { show: false },
      axisTick: { customValues: [-2, -1, 0, 1, 2], length: 2, lineStyle: { color: '#333' } },
      axisLabel: { customValues: [-2, -1, 0, 1, 2], fontSize: 8.5, color: ink, margin: 1, formatter: minusSign }
    },
    {
      gridIndex: 8, type: 'value', min: 3.9, max: 7, z: 5,
      name: 'Expression', nameLocation: 'middle', nameGap: 14,
      nameTextStyle: { fontSize: 9, color: '#333', padding: [0, 22, 0, 0] },
      axisLine: { show: false, onZero: false }, splitLine: { show: false },
      axisTick: { customValues: [4, 5, 6], length: 2, lineStyle: { color: '#333' } },
      axisLabel: { customValues: [4, 5, 6], fontSize: 9, color: '#333', margin: 1 }
    },
    barsUp.x,
    barsDown.x
  ],
  yAxis: [
    umapLeft.y,
    umapRight.y,
    { gridIndex: 2, type: 'value', min: 0, max: 6.75, show: false },
    {
      gridIndex: 3, type: 'value', min: 0, max: 1276,
      name: 'Coverage', nameLocation: 'middle', nameGap: 5,
      nameTextStyle: { fontSize: 9.5, color: '#111', fontWeight: 500 },
      splitLine: { show: false }, axisLine: { show: false },
      axisTick: { show: true, length: 2.5, customValues: [0, 500, 1000], lineStyle: { color: ink } },
      axisLabel: { customValues: [0, 500, 1000], fontSize: 8.5, color: ink, margin: 3, formatter: v => String(v) }
    },
    { gridIndex: 4, type: 'category', data: rowIndex, inverse: true, show: false },
    {
      gridIndex: 5, type: 'category', data: genes, inverse: true,
      axisLine: { show: false }, axisTick: { show: false },
      axisLabel: { interval: 0, fontSize: 8.2, color: ink, margin: 1 }
    },
    { gridIndex: 6, type: 'category', data: genes, inverse: true, show: false },
    { gridIndex: 7, type: 'value', min: 0, max: 1, show: false },
    { gridIndex: 8, type: 'value', min: 0, max: 1, show: false },
    barsUp.y,
    barsDown.y
  ],
  legend: {
    left: 83, top: 214, height: 34, orient: 'vertical',
    padding: [4, 0, 0, 4], itemGap: 0, itemWidth: 7, itemHeight: 7, icon: 'circle', selectedMode: false,
    textStyle: { fontSize: 9, lineHeight: 7, color: ink, padding: [0, 5, 0, -2] },
    data: ['Microglia', 'Neuron', 'NPC', 'Choroid Plexus Stroma', 'Immature Choroid Plexus/Hem', 'Mature Choroid Plexus']
  },
  visualMap: [
    { show: false, seriesIndex: 7, dimension: 2, min: 3.9, max: 7, inRange: { color: plasma } },
    { show: false, seriesIndex: 14, dimension: 2, min: 0, max: 9, inRange: { color: blues } },
    { show: false, seriesIndex: [15, 16], dimension: 2, min: -2.5, max: 2.5, inRange: { color: purpleYellow } }
  ],
  series: [
    { name: 'Microglia', type: 'scatter', data: microgliaPts.concat(microgliaFill, microgliaTail), symbolSize: dotSize, itemStyle: { color: umapColors.microglia } },
    { name: 'Neuron', type: 'scatter', data: neuronPts.concat(neuronFill), symbolSize: dotSize, itemStyle: { color: umapColors.neuron } },
    { name: 'NPC', type: 'scatter', data: npcPts.concat(npcFill), symbolSize: dotSize, itemStyle: { color: umapColors.npc } },
    { name: 'Choroid Plexus Stroma', type: 'scatter', data: stromaPts.concat(stromaFill), symbolSize: dotSize, itemStyle: { color: umapColors.stroma } },
    { name: 'Immature Choroid Plexus/Hem', type: 'scatter', data: immaturePts.concat(immatureFill), symbolSize: dotSize, itemStyle: { color: umapColors.immature } },
    { name: 'Mature Choroid Plexus', type: 'scatter', data: maturePts, symbolSize: dotSize, itemStyle: { color: umapColors.mature } },
    { type: 'scatter', xAxisIndex: 1, yAxisIndex: 1, data: greyPts, symbolSize: 6.5, itemStyle: { color: '#d2d2d2' } },
    { type: 'scatter', xAxisIndex: 1, yAxisIndex: 1, data: hivPts, symbolSize: 3.6 },
    // genome map
    { type: 'line', xAxisIndex: 2, yAxisIndex: 2, data: [[0.65, 4.47], [9.09, 4.47]], symbol: 'none', lineStyle: { color: '#000', width: 1.6 }, z: 3 },
    { type: 'custom', xAxisIndex: 2, yAxisIndex: 2, renderItem: renderSpan, encode: { x: [0, 1], y: 2 }, data: geneNames.map((n, i) => [geneStart[i], geneEnd[i], geneTrack[i]]), z: 4 },
    { type: 'custom', xAxisIndex: 2, yAxisIndex: 2, renderItem: renderLtr, encode: { x: [0, 1] }, data: ltrNames.map((n, i) => [ltrStart[i], ltrEnd[i]]), z: 4 },
    { type: 'line', xAxisIndex: 2, yAxisIndex: 2, data: dashKb.map((k, i) => (k === null ? ['-', '-'] : [k, dashLevel[i]])), symbol: 'none', lineStyle: { color: '#333', width: 0.8, type: 'dotted' }, z: 3 },
    {
      type: 'scatter', xAxisIndex: 2, yAxisIndex: 2, symbolSize: 0, z: 5,
      data: tatRevNames.map((n, i) => ({ name: n, value: [tatRevKb[i], tatRevLevel[i]] })),
      label: { show: true, position: 'inside', formatter: '{b}', fontSize: 9.5, fontWeight: 600, color: '#111' }
    },
    {
      type: 'scatter', xAxisIndex: 2, yAxisIndex: 2, z: 6,
      data: kbTicks.map(k => [k, 1]),
      symbol: 'triangle', symbolSize: [5, 7], symbolOffset: [0, -3],
      itemStyle: { color: '#c8103c' },
      label: { show: true, position: 'bottom', distance: 3, fontSize: 9, color: '#333', formatter: p => String(p.value[0]) }
    },
    // single cells, series index 14
    { type: 'heatmap', xAxisIndex: 4, yAxisIndex: 4, data: cellData, progressive: 0 },
    { type: 'heatmap', xAxisIndex: 5, yAxisIndex: 5, data: negData, progressive: 0 },
    { type: 'heatmap', xAxisIndex: 6, yAxisIndex: 6, data: posData, progressive: 0 },
    {
      type: 'line', xAxisIndex: 3, yAxisIndex: 3, data: coverage, symbol: 'none',
      lineStyle: { color: '#7d7d7d', width: 0.6 }, areaStyle: { color: '#858585', opacity: 1 }
    },
    { type: 'custom', xAxisIndex: 7, yAxisIndex: 7, renderItem: renderColorBar(purpleYellow), encode: { x: [0, 1] }, data: [[-2.6, 2.5]] },
    { type: 'custom', xAxisIndex: 8, yAxisIndex: 8, renderItem: renderColorBar(plasma), encode: { x: [0, 1] }, data: [[3.9, 7]] },
    { type: 'bar', xAxisIndex: 9, yAxisIndex: 9, data: upValues, barWidth: 22.7, itemStyle: { color: '#1a90ff' }, z: 3 },
    { type: 'bar', xAxisIndex: 10, yAxisIndex: 10, data: downValues, barWidth: 22.4, itemStyle: { color: '#fdb414' }, z: 3 },
    // kb scale of the genome map
    {
      type: 'line', xAxisIndex: 2, yAxisIndex: 2, z: 5, symbol: 'none',
      data: [[0, 1], [9.6, 1]],
      lineStyle: { width: 2.4, color: new echarts.graphic.LinearGradient(0, 0, 1, 0, [
        { offset: 0, color: 'rgba(200,16,60,0.15)' }, { offset: 0.08, color: '#c8103c' },
        { offset: 0.9, color: '#c8103c' }, { offset: 1, color: 'rgba(200,16,60,0.15)' }
      ]) }
    }
  ],
  graphic: [
    labelText('A', 7, 13, 'bold 17px'),
    labelText('B', 8, 284, 'bold 17px'),
    labelText('C', 373, 286, 'bold 17px'),
    labelText('D', 598, 9, 'bold 17px'),
    labelText('E', 598, 318, 'bold 17px'),
    labelText('Up-regulated DEGs', 732.7, 9.5, 'bold 11px'),
    labelText('Down-regulated DEGs', 739, 321, 'bold 11.5px'),
    labelText('Single Cells', 21, 498, 'bold 11.5px', { rotation: Math.PI / 2 }),
    labelText('kb:', 45.7, 354.7, '9px'),
    labelText('HIV-1', 474, 222, 'bold 9px'),
    labelText('Expression', 473.5, 606.7, 'bold 9.2px'),
    { type: 'rect', z: 1, shape: { x: 83, y: 214, width: 201, height: 34 }, style: { fill: '#fff', stroke: '#888', lineWidth: 0.6 } },
    { type: 'line', z: 60, shape: { x1: 32, y1: 392, x2: 32, y2: 598 }, style: { stroke: '#777', lineWidth: 0.8 } },
    { type: 'rect', z: 60, shape: { x: 38.5, y: 364, width: 315.5, height: 234 }, style: { fill: 'none', stroke: '#222', lineWidth: 1.5 } },
    { type: 'line', z: 60, shape: { x1: 38.5, y1: 391.7, x2: 354, y2: 391.7 }, style: { stroke: '#999', lineWidth: 0.5 } },
    { type: 'rect', z: 60, shape: { x: 405.7, y: 289, width: 83.3, height: 16.7 }, style: { fill: '#9b1fd0' } },
    { type: 'rect', z: 60, shape: { x: 491, y: 289, width: 84, height: 16.7 }, style: { fill: '#f5005a' } },
    labelText('HIV Negative', 447.3, 297.5, 'bold 12.3px', { z: 61 }, '#fff'),
    labelText('HIV Positive', 533, 297.5, 'bold 12.5px', { z: 61 }, '#fff'),
    { type: 'rect', z: 1, shape: { x: 456, y: 211, width: 113, height: 37 }, style: { fill: '#fff', stroke: '#999', lineWidth: 0.6 } }
  ]
};
chartInstance.setOption(initOption);
</script>
</body>
</html>
